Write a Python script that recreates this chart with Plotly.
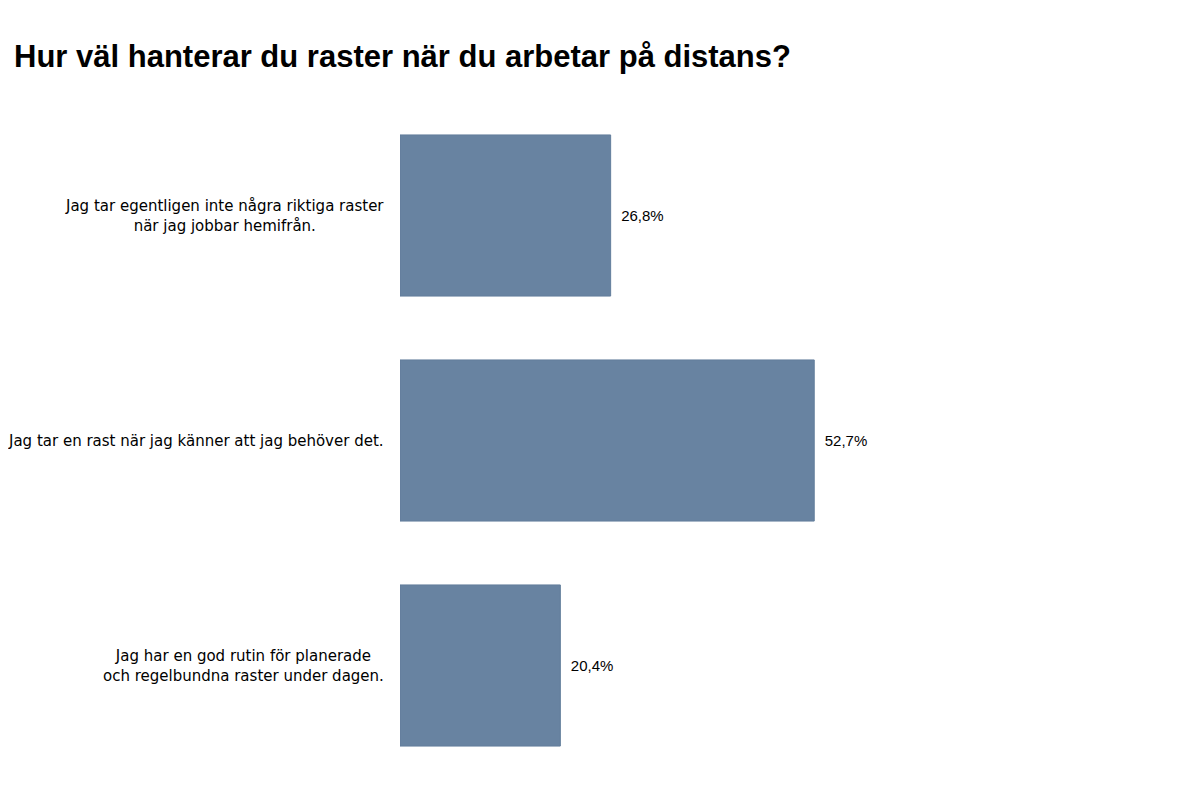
import plotly.graph_objects as go

categories = [
    "Jag tar egentligen inte några riktiga raster<br>när jag jobbar hemifrån.",
    "Jag tar en rast när jag känner att jag behöver det.",
    "Jag har en god rutin för planerade<br>och regelbundna raster under dagen.",
]
values = [26.8, 52.7, 20.4]
value_labels = ["26,8%", "52,7%", "20,4%"]
title_text = "Hur väl hanterar du raster när du arbetar på distans?"

fig = go.Figure()
fig.add_trace(go.Bar(
    y=categories,
    x=values,
    orientation="h",
    marker=dict(color="#6883a1", line=dict(color="#627d9b", width=1)),
    text=value_labels,
    texttemplate="\u2002%{text}",
    textposition="outside",
    textfont=dict(family="Liberation Sans, Arial, sans-serif", size=15, color="#000000"),
    cliponaxis=False,
    hoverinfo="skip",
))

for cat in categories:
    fig.add_annotation(
        x=0, xref="paper", y=cat, yref="y",
        text=cat, showarrow=False,
        xanchor="right", yanchor="middle", align="center",
        xshift=-14,
        font=dict(family="DejaVu Sans, sans-serif", size=15, color="#000000"),
    )

fig.update_layout(
    width=1192, height=793,
    paper_bgcolor="white", plot_bgcolor="white",
    margin=dict(l=392, r=14, t=95, b=23),
    bargap=0.284,
    showlegend=False,
    title=dict(
        text="<b>" + title_text + "</b>",
        x=6/1192, xanchor="left",
        y=1 - 48/793, yanchor="middle",
        font=dict(family="Liberation Sans, Arial, sans-serif", size=31, color="#000000"),
    ),
    xaxis=dict(range=[0, 100], visible=False, fixedrange=True),
    yaxis=dict(autorange="reversed", showticklabels=False, showgrid=False,
               zeroline=False, showline=False, ticks=""),
)

fig.write_html("out.html")
